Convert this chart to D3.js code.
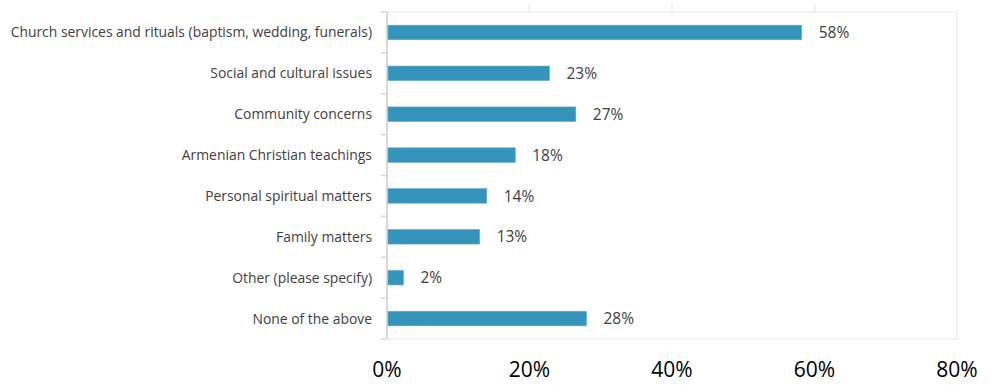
<!DOCTYPE html>
<html>
<head>
<meta charset="utf-8">
<script src="https://cdn.jsdelivr.net/npm/d3@7"></script>
<style>
  html, body { margin: 0; padding: 0; background: #ffffff; }
  svg { display: block; }
</style>
</head>
<body>
<svg id="chart" width="991" height="385"></svg>
<script>
const categories = [
  "Church services and rituals (baptism, wedding, funerals)",
  "Social and cultural issues",
  "Community concerns",
  "Armenian Christian teachings",
  "Personal spiritual matters",
  "Family matters",
  "Other (please specify)",
  "None of the above"
];
const values = [58.2, 22.8, 26.5, 18, 14, 13, 2.3, 28];
const tickValues = [0, 20, 40, 60, 80];

const svg = d3.select("#chart");
const plotLeft = 387, plotRight = 957, plotTop = 12, plotBottom = 339;

const x = d3.scaleLinear().domain([0, 80]).range([plotLeft, plotRight]);
const y = d3.scaleBand().domain(categories).range([plotTop, plotBottom]).paddingInner(0.645).paddingOuter(0.3225);
const band = d3.scaleBand().domain(categories).range([plotTop, plotBottom]);

// plot frame
svg.append("rect")
  .attr("x", plotLeft).attr("y", plotTop)
  .attr("width", plotRight - plotLeft).attr("height", plotBottom - plotTop)
  .attr("fill", "none").attr("stroke", "#f0f0f0").attr("stroke-width", 1.5);

// small grid ticks above top
svg.append("g").selectAll("line").data(tickValues.slice(1, 4)).join("line")
  .attr("x1", d => x(d)).attr("x2", d => x(d))
  .attr("y1", 4).attr("y2", plotTop)
  .attr("stroke", "#ececec").attr("stroke-width", 1.5);

// left axis line + category boundary ticks
const boundaries = categories.map(c => band(c)).concat([plotBottom]);
svg.append("line")
  .attr("x1", plotLeft).attr("x2", plotLeft).attr("y1", plotTop).attr("y2", plotBottom)
  .attr("stroke", "#d9d9d9").attr("stroke-width", 2);
svg.append("g").selectAll("line").data(boundaries).join("line")
  .attr("x1", plotLeft - 6).attr("x2", plotLeft)
  .attr("y1", d => d).attr("y2", d => d)
  .attr("stroke", "#d9d9d9").attr("stroke-width", 1.5);

// bars
svg.append("g").selectAll("rect").data(values).join("rect")
  .attr("x", plotLeft + 1)
  .attr("y", (d, i) => y(categories[i]))
  .attr("width", d => x(d) - plotLeft - 1)
  .attr("height", y.bandwidth())
  .attr("fill", "#3594bb")
  .attr("stroke", "#5aaad0").attr("stroke-width", 0.6);

// value labels
svg.append("g").selectAll("text").data(values).join("text")
  .attr("x", d => x(d) + 17)
  .attr("y", (d, i) => band(categories[i]) + band.bandwidth() / 2)
  .attr("dy", "0.36em")
  .attr("font-family", "'Open Sans', sans-serif")
  .attr("font-size", 15.5)
  .attr("fill", "#404040")
  .text(d => Math.round(d) + "%");

// category labels
svg.append("g").selectAll("text").data(categories).join("text")
  .attr("x", plotLeft - 15)
  .attr("y", d => band(d) + band.bandwidth() / 2)
  .attr("dy", "0.36em")
  .attr("text-anchor", "end")
  .attr("font-family", "'Open Sans', sans-serif")
  .attr("font-size", 13.9)
  .attr("fill", "#404040")
  .text(d => d);

// x axis labels
svg.append("g").selectAll("text").data(tickValues).join("text")
  .attr("x", d => x(d))
  .attr("y", 377)
  .attr("text-anchor", "middle")
  .attr("font-family", "'Open Sans', sans-serif")
  .attr("font-size", 21)
  .attr("fill", "#000000")
  .text(d => d + "%");
</script>
</body>
</html>
